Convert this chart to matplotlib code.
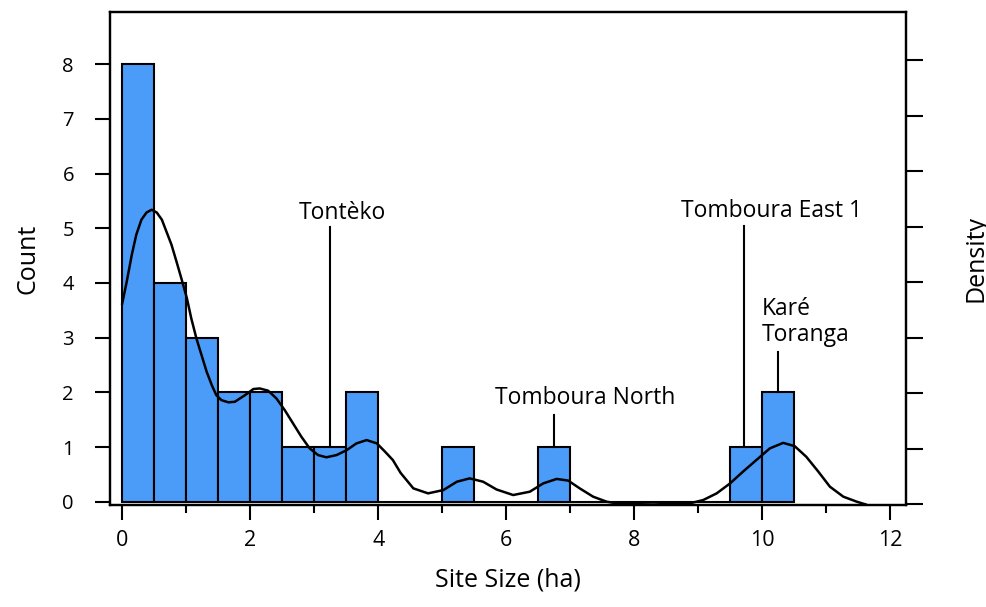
import numpy as np
import matplotlib
matplotlib.use("Agg")
import matplotlib.pyplot as plt

plt.rcParams['font.family'] = ['Open Sans', 'DejaVu Sans']

# histogram: 0.5 ha bins from 0 to 10.5
bin_edges = np.arange(0, 10.51, 0.5)
counts = [8, 4, 3, 2, 2, 1, 1, 2, 0, 0, 1, 0, 0, 1, 0, 0, 0, 0, 0, 1, 2]

# smoothed density curve (right axis, tick units)
kde_x = [0.0, 0.07, 0.15, 0.22, 0.30, 0.38, 0.46, 0.54, 0.62, 0.69, 0.77, 0.85,
         0.93, 1.01, 1.08, 1.16, 1.24, 1.32, 1.40, 1.47, 1.55, 1.66, 1.76, 1.92,
         2.05, 2.15, 2.28, 2.41, 2.54, 2.67, 2.80, 2.93, 3.06, 3.19, 3.35, 3.51,
         3.66, 3.82, 3.98, 4.10, 4.23, 4.35, 4.55, 4.78, 5.02, 5.23, 5.43, 5.64,
         5.85, 6.11, 6.37, 6.58, 6.79, 6.97, 7.15, 7.36, 7.57, 7.78, 8.30, 8.87,
         9.08, 9.29, 9.50, 9.70, 9.91, 10.12, 10.33, 10.51, 10.69, 10.88, 11.06,
         11.27, 11.48, 11.62]
kde_y = [3.62, 4.01, 4.50, 4.86, 5.13, 5.26, 5.31, 5.26, 5.13, 4.92, 4.68, 4.37,
         4.05, 3.72, 3.35, 2.99, 2.69, 2.39, 2.15, 1.97, 1.88, 1.84, 1.85, 1.97,
         2.08, 2.09, 2.05, 1.91, 1.70, 1.46, 1.22, 1.01, 0.89, 0.85, 0.89, 0.98,
         1.10, 1.16, 1.10, 0.96, 0.80, 0.57, 0.29, 0.20, 0.26, 0.41, 0.47, 0.41,
         0.27, 0.17, 0.23, 0.38, 0.46, 0.43, 0.29, 0.14, 0.05, 0.01, 0.0, 0.02,
         0.08, 0.20, 0.38, 0.59, 0.80, 1.01, 1.11, 1.05, 0.86, 0.59, 0.32,
         0.14, 0.05, 0.0]

# labelled sites: name, x of leader line, top of leader line (count units), bar height
sites = [
    ("Tontèko", 3.25, 5.03, 1),
    ("Tomboura North", 6.75, 1.58, 1),
    ("Tomboura East 1", 9.72, 5.04, 1),
    ("Karé\nToranga", 10.25, 2.74, 2),
]
label_pos = [(3.44, 5.27, 'center'), (7.23, 1.9, 'center'), (10.14, 5.31, 'center'),
             (9.99, 3.29, 'left')]

fig = plt.figure(figsize=(9.87, 6.07), dpi=100)
ax = fig.add_axes([0.1115, 0.168, 0.8065, 0.812])

ax.bar(bin_edges[:-1], counts, width=0.5, align='edge', color='#4b9bf9',
       edgecolor='black', linewidth=1.5, zorder=2)

for (name, lx, ltop, h), (tx, ty, ha) in zip(sites, label_pos):
    ax.plot([lx, lx], [h, ltop], color='black', lw=1.5, zorder=3)
    ax.text(tx, ty, name, ha=ha, va='center', fontsize=16.5, linespacing=1.1)

ax.set_xlim(-0.19, 12.25)
ax.set_ylim(-0.06, 8.95)
ax.set_xticks(np.arange(0, 13, 2))
ax.set_xticks(np.arange(1, 12, 2), minor=True)
ax.set_yticks(np.arange(0, 9, 1))
ax.tick_params(axis='x', which='major', direction='out', length=11, width=1.5,
               labelsize=15.5, pad=7)
ax.tick_params(axis='x', which='minor', direction='out', length=6, width=1.5)
ax.tick_params(axis='y', direction='out', length=11, width=1.5, labelsize=14.5, pad=15)
for sp in ax.spines.values():
    sp.set_linewidth(1.6)
ax.set_xlabel("Site Size (ha)", fontsize=18, labelpad=12)
ax.set_ylabel("Count", fontsize=18, labelpad=16)

# density axis on the right, unlabeled ticks
ax2 = ax.twinx()
ax2.plot(kde_x, kde_y, color='black', lw=1.8, zorder=4, solid_joinstyle='round')
ax2.set_ylim(-0.01, 8.87)
ax2.set_yticks(np.arange(0, 9, 1))
ax2.set_yticklabels([])
ax2.tick_params(axis='y', direction='out', length=12, width=1.5)
for sp in ax2.spines.values():
    sp.set_linewidth(1.6)
ax2.set_ylabel("Density", fontsize=18, labelpad=26)

fig.savefig("out.png", dpi=100)
